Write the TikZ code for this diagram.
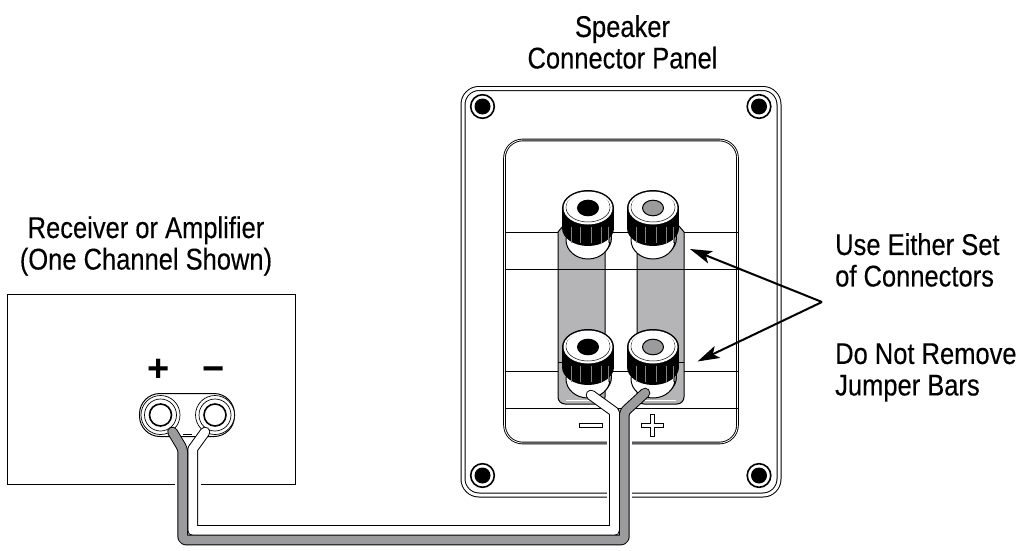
\documentclass[tikz,border=0pt]{standalone}
\usepackage{fontspec}
\setmainfont[FakeStretch=0.85,FakeBold=0.25]{Liberation Sans}
\newfontfamily\signfont{Liberation Sans}
\usetikzlibrary{arrows.meta}
\definecolor{bargray}{RGB}{181,181,184}
\definecolor{wiregray}{RGB}{155,155,157}
\tikzset{
  caption/.style={font=\fontsize{30}{31.5}\selectfont,inner sep=0pt,align=center},
  sign/.style={font=\signfont\bfseries\fontsize{38}{38}\selectfont,inner sep=0pt},
  thin line/.style={draw=black,line width=1},
  wire/.style={line width=1,double distance=8.6,line join=round,line cap=round},
  pointer/.style={line width=2,-{Stealth[length=22pt,width=13pt,inset=5pt]}}
}
\begin{document}
\begin{tikzpicture}[x=1pt,y=-1pt]
  \useasboundingbox (0,0) rectangle (1025,551);

  % speaker panel
  \draw[line width=1,double distance=3,rounded corners=16] (463,88.5) rectangle (779,495);
  \draw[line width=.9,double distance=.8,rounded corners=18] (504.5,140) rectangle (737.5,443);
  \foreach \x in {482.5,759}
    \foreach \y in {106.5,475.5} {
      \draw[line width=1.6,fill=white] (\x,\y) circle (11.8);
      \fill (\x,\y) circle (8);
    }
  \foreach \y in {232,269,371,408}
    \draw[thin line] (504.5,\y) -- (737.5,\y);

  % jumper bars
  \foreach \x in {558,637} {
    \draw[thin line,fill=bargray] (\x,232) -- (\x+5,226) -- (\x+42,226) -- (\x+47,232) -- (\x+47,397) [rounded corners=7] -- (\x+47,404) -- (\x,404) [sharp corners] -- (\x,397) -- cycle;
    \draw[thin line] (\x,269) -- (\x+47,269);
    \draw[thin line] (\x,362) -- (\x+47,362);
    \draw[white,line width=.8] (\x+8,400.5) -- (\x+39,400.5);
  }

  % binding posts
  \foreach \x/\y/\holecol in {588/208/black,653/208/wiregray,588/347/black,653/347/wiregray} {
    \draw[thin line,fill=white] (\x+1,\y+30) ellipse (22.5 and 19);
    \draw[thin line,fill=white] (\x,\y+32) ellipse (22 and 19);
    \fill (\x,\y) ellipse (26 and 18);
    \fill (\x-26,\y) rectangle (\x+26,\y+20);
    \fill (\x,\y+20) ellipse (26 and 18);
    \foreach \r in {-17,-8,3,13,20}
      \draw[gray,line width=.4] (\x+\r,\y+19) -- (\x+\r,\y+35);
    \fill[white] (\x,\y) ellipse (24.5 and 16.5);
    \draw[line width=.5] (\x,\y-.5) ellipse (22 and 14.5);
    \fill[white] (\x,\y-1.5) ellipse (21.5 and 14.5);
    \draw[line width=1,fill=\holecol] (\x,\y) ellipse (10.5 and 7.8);
  }

  % embossed polarity marks
  \draw[line width=.8] (579,423) rectangle (602,427);
  \draw[line width=.8] (650.5,414) -- (654.5,414) -- (654.5,423) -- (663.5,423) -- (663.5,427) -- (654.5,427) -- (654.5,436) -- (650.5,436) -- (650.5,427) -- (641.5,427) -- (641.5,423) -- (650.5,423) -- cycle;

  % receiver box
  \draw[thin line] (7,294) rectangle (295,484);
  \draw[thin line,rounded corners=20.5] (139.5,393.5) rectangle (234.5,436.5);
  \foreach \x in {160.5,215} {
    \draw[line width=.7,fill=white] (\x,415) circle (19.5);
    \draw[line width=.7] (\x,415) circle (16);
    \draw[line width=1.6] (\x,415) circle (11);
  }
  \draw[line width=.7] (183,434.5) -- (192,434.5);
  \node[sign] (plus) at (159,370.5) {+};
  \node[sign] (minus) at (214,374) {−};

  % gaps where the cable passes
  \coordinate (recvgaptop) at (188,470);
  \coordinate (recvgapbottom) at (188,500);
  \coordinate (spkgaptop) at (619.5,415);
  \coordinate (spkgapbottom) at (619.5,515);
  \draw[white,line width=26] (recvgaptop) -- (recvgapbottom);
  \draw[white,line width=25] (spkgaptop) -- (spkgapbottom);

  % cable
  \coordinate (ampminus) at (205,432);
  \coordinate (ampplus) at (172.5,432);
  \coordinate (spkminus) at (591,395);
  \coordinate (spkplus) at (645,393);
  \draw[wire,double=white] (ampminus) -- (192.7,449) -- (192.7,530.5) -- (614.5,530.5) -- (614.5,412) -- (spkminus);
  \draw[wire,double=wiregray,rounded corners=3] (ampplus) -- (182.7,449) -- (182.7,540) -- (624.3,540) -- (624.3,412) -- (spkplus);

  % labels
  \node[caption] (speaker) at (622.5,42) {Speaker\\Connector Panel};
  \node[caption] (receiver) at (146,246) {Receiver or Amplifier\\(One Channel Shown)};
  \node[caption,anchor=west,align=left] (either) at (835,260) {Use Either Set\\of Connectors};
  \node[caption,anchor=west,align=left] (jumper) at (835,372.5) {Do Not Remove\\Jumper Bars};

  % pointers
  \coordinate (fork) at (822,302);
  \coordinate (uppertip) at (690,249);
  \coordinate (lowertip) at (697.5,361.5);
  \draw[pointer] (fork) -- (uppertip);
  \draw[pointer] (fork) -- (lowertip);
\end{tikzpicture}
\end{document}
